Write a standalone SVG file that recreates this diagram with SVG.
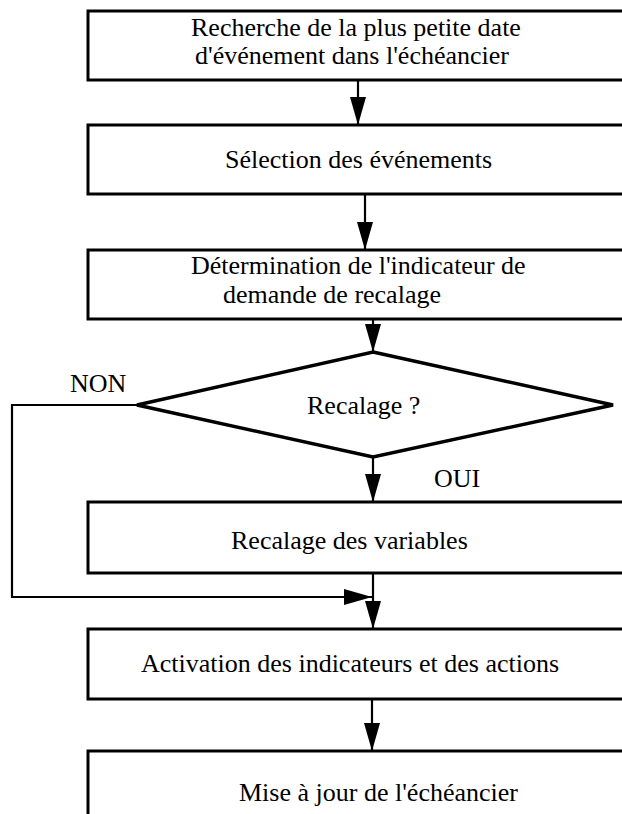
<svg xmlns="http://www.w3.org/2000/svg" width="622" height="814" viewBox="0 0 622 814">
<style>
  .box { fill: #fff; stroke: #000; stroke-width: 3; }
  .dia { fill: #fff; stroke: #000; stroke-width: 3.5; stroke-linejoin: miter; }
  .lbl { font-family: "Liberation Serif", "Times New Roman", serif; font-size: 26px; fill: #000; }
  .con { fill: none; stroke: #000; stroke-width: 2.2; }
</style>
<defs>
  <marker id="arr" markerUnits="userSpaceOnUse" markerWidth="30" markerHeight="18" refX="28" refY="8" orient="auto">
    <path d="M0,0 L28,8 L0,16 Z" fill="#000"/>
  </marker>
</defs>
<rect width="622" height="814" fill="#fff"/>

<g id="n1">
  <rect class="box" x="88" y="11" width="560" height="69"/>
  <text class="lbl" x="191" y="36">Recherche de la plus petite date</text>
  <text class="lbl" x="195" y="64">d'événement dans l'échéancier</text>
</g>
<g id="n2">
  <rect class="box" x="88" y="125" width="560" height="69"/>
  <text class="lbl" x="225" y="168">Sélection des événements</text>
</g>
<g id="n3">
  <rect class="box" x="88" y="250" width="560" height="69"/>
  <text class="lbl" x="191" y="274">Détermination de l'indicateur de</text>
  <text class="lbl" x="223" y="303">demande de recalage</text>
</g>
<g id="d1">
  <polygon class="dia" points="373,352 613,405 373,457 137,405"/>
  <text class="lbl" x="307" y="414">Recalage ?</text>
</g>
<g id="n4">
  <rect class="box" x="88" y="502" width="560" height="71"/>
  <text class="lbl" x="231" y="549">Recalage des variables</text>
</g>
<g id="n5">
  <rect class="box" x="88" y="629" width="560" height="70"/>
  <text class="lbl" x="141" y="672">Activation des indicateurs et des actions</text>
</g>
<g id="n6">
  <rect class="box" x="88" y="751" width="560" height="80"/>
  <text class="lbl" x="239" y="801">Mise à jour de l'échéancier</text>
</g>

<g id="connectors">
  <line class="con" x1="358" y1="80" x2="358" y2="125" marker-end="url(#arr)"/>
  <line class="con" x1="365" y1="194" x2="365" y2="250" marker-end="url(#arr)"/>
  <line class="con" x1="373" y1="319" x2="373" y2="352" marker-end="url(#arr)"/>
  <line class="con" x1="373" y1="457" x2="373" y2="502" marker-end="url(#arr)"/>
  <line class="con" x1="373" y1="573" x2="373" y2="629" marker-end="url(#arr)"/>
  <polyline class="con" points="137,405 12,405 12,597 372,597" marker-end="url(#arr)"/>
  <line class="con" x1="372" y1="699" x2="372" y2="751" marker-end="url(#arr)"/>
  <text class="lbl" x="70" y="392">NON</text>
  <text class="lbl" x="434" y="487">OUI</text>
</g>
</svg>
